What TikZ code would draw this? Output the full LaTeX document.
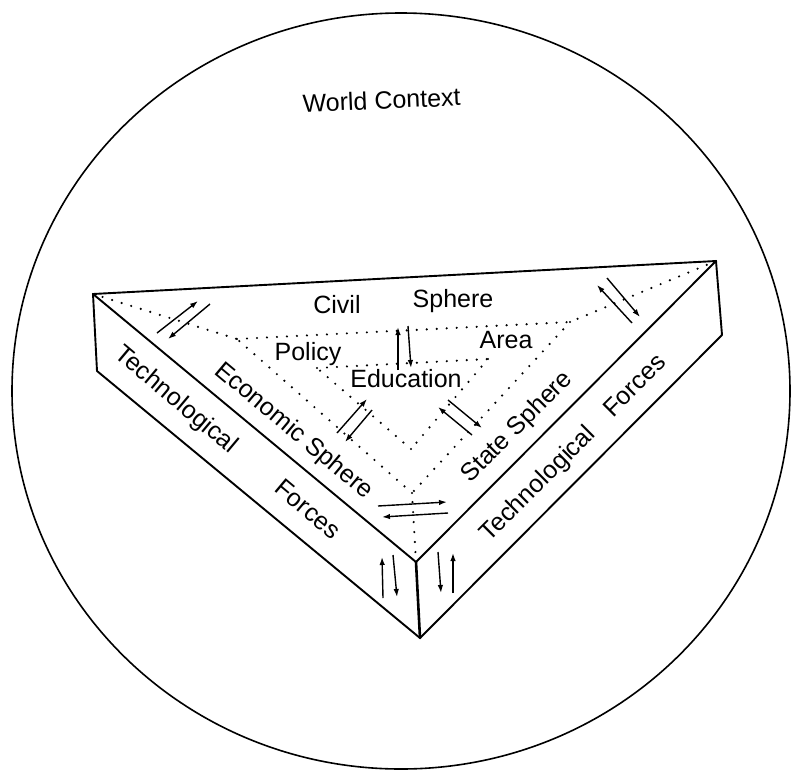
\documentclass[tikz,border=0pt]{standalone}
\usepackage{fontspec}
\setmainfont{Liberation Sans}
\usetikzlibrary{arrows.meta}
\begin{document}
\begin{tikzpicture}[x=1pt,y=-1pt,
  edgeline/.style={line width=1.9pt,line join=round,line cap=round},
  dotline/.style={line width=2.4pt,line cap=round,dash pattern=on 0pt off 10pt},
  arr/.style={line width=1.4pt,-{Latex[length=8pt,width=5.5pt]}},
  lbl/.style={font=\fontsize{25}{29}\selectfont,inner sep=0pt},
  rlbl/.style={lbl,text height=17pt,text depth=0pt,anchor=center}]
\useasboundingbox (0,0) rectangle (792,769);
% world circle
\draw[line width=1.6pt] (401,391) ellipse [x radius=389pt, y radius=378pt];
\node[lbl,anchor=base,rotate=2.5] (world) at (382,109) {World Context};
% prism corners
\coordinate (A) at (93,294);
\coordinate (B) at (716,261);
\coordinate (C) at (416,562);
\coordinate (A2) at (97,371);
\coordinate (B2) at (722,335);
\coordinate (C2) at (420,638);
% dotted junctions
\coordinate (P) at (237,339);
\coordinate (Q) at (570,322);
\coordinate (D) at (412,493);
\coordinate (E) at (317,368);
\coordinate (F) at (488,359);
\coordinate (G) at (411,449);
% dotted structure
\draw[dotline] (A) -- (P);
\draw[dotline] (B) -- (Q);
\draw[dotline] (C) -- (D);
\draw[dotline] (P) -- (Q);
\draw[dotline] (Q) -- (D);
\draw[dotline] (D) -- (P);
\draw[dotline] (E) -- (F);
\draw[dotline] (F) -- (G);
\draw[dotline] (G) -- (E);
% prism edges
\draw[edgeline] (A) -- (B) -- (C) -- cycle;
\draw[edgeline] (A) -- (A2) -- (C2) -- (B2) -- (B);
\draw[edgeline,line width=2.6pt] (C) -- (C2);
% arrows
\draw[arr] (157,333) -- (198,301);
\draw[arr] (210,304) -- (168,339);
\draw[arr] (398,370) -- (398,327);
\draw[arr] (408,326) -- (411,368);
\draw[arr] (632,323) -- (597,285);
\draw[arr] (607,278) -- (640,317);
\draw[arr] (337,433) -- (367,399);
\draw[arr] (372,410) -- (345,442);
\draw[arr] (472,435) -- (438,407);
\draw[arr] (448,400) -- (482,428);
\draw[arr] (378,506) -- (447,502);
\draw[arr] (448,513) -- (382,517);
\draw[arr] (383,598) -- (382,557);
\draw[arr] (393,555) -- (397,597);
\draw[arr] (438,552) -- (441,593);
\draw[arr] (453,593) -- (453,553);
% labels on top face
\node[lbl,anchor=base] (civil) at (337,313) {Civil};
\node[lbl,anchor=base] (csphere) at (453,307) {Sphere};
\node[lbl,anchor=base] (policy) at (308,360) {Policy};
\node[lbl,anchor=base] (area) at (506,348) {Area};
\node[lbl,anchor=base] (educ) at (406,387) {Education};
\node[rlbl,rotate=-40] (econ) at (295,430) {Economic Sphere};
\node[rlbl,rotate=45] (state) at (516,426) {State Sphere};
% labels on side faces
\node[rlbl,rotate=-40] (techL) at (177,399) {Technological};
\node[rlbl,rotate=-40] (forcL) at (308,509) {Forces};
\node[rlbl,rotate=45] (techR) at (537,483) {Technological};
\node[rlbl,rotate=45] (forcR) at (634,385) {Forces};
\end{tikzpicture}
\end{document}
